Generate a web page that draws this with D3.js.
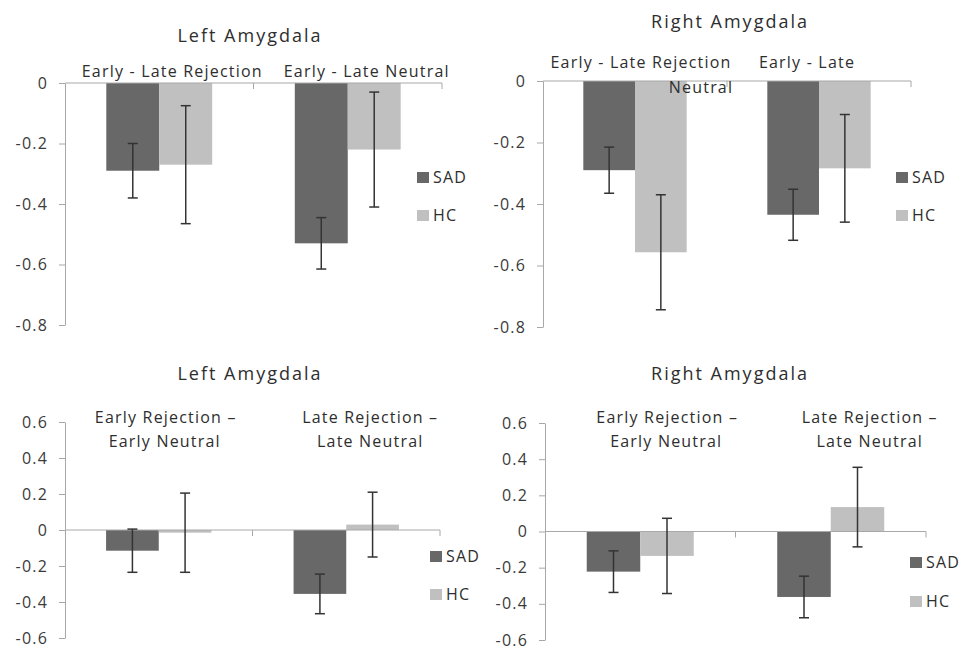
<!DOCTYPE html>
<html>
<head>
<meta charset="utf-8">
<script src="https://cdn.jsdelivr.net/npm/d3@7"></script>
<style>
  body { margin: 0; background: #fff; }
  svg text { font-family: "Open Sans", sans-serif; fill: #2e2e2e; }
</style>
</head>
<body>
<svg id="chart" width="966" height="652"></svg>
<script>
"use strict";

// groups + tick labels
const groups = ["SAD", "HC"];
const titles = ["Left Amygdala", "Right Amygdala", "Left Amygdala", "Right Amygdala"];
const topTicks = [0, -0.2, -0.4, -0.6, -0.8];
const bottomTicks = [0.6, 0.4, 0.2, 0, -0.2, -0.4, -0.6];

// category labels (one array of lines per category)
const leftTopCats = [["Early - Late Rejection"], ["Early - Late Neutral"]];
const rightTopCats = [["Early - Late Rejection"], ["Early - Late", "Neutral"]];
const bottomCats = [["Early Rejection \u2013", "Early Neutral"], ["Late Rejection \u2013", "Late Neutral"]];

// values
const leftTopSAD = [-0.29, -0.53];
const leftTopSADErr = [0.09, 0.085];
const leftTopHC = [-0.27, -0.22];
const leftTopHCErr = [0.195, 0.19];

const rightTopSAD = [-0.29, -0.435];
const rightTopSADErr = [0.075, 0.083];
const rightTopHC = [-0.557, -0.284];
const rightTopHCErr = [0.187, 0.175];

const leftBottomSAD = [-0.115, -0.355];
const leftBottomSADErr = [0.12, 0.11];
const leftBottomHC = [-0.015, 0.03];
const leftBottomHCErr = [0.22, 0.18];

const rightBottomSAD = [-0.222, -0.362];
const rightBottomSADErr = [0.115, 0.115];
const rightBottomHC = [-0.135, 0.135];
const rightBottomHCErr = [0.208, 0.22];

const colors = { SAD: "#686868", HC: "#c0c0c0" };

// panel layout (pixels)
const layouts = [
  { x0: 65, x1: 442, yTop: 83, yBot: 325, titleX: 250, titleY: 42,
    catY: [77], catDx: [[13], [19]], legX: 417, legY: [183, 221] },
  { x0: 543, x1: 911, yTop: 81, yBot: 327, titleX: 730, titleY: 28,
    catY: [68, 93], catDx: [[6], [-12, -118]], legX: 896, legY: [183, 221] },
  { x0: 65, x1: 440, yTop: 422, yBot: 638, titleX: 250, titleY: 380,
    catY: [423, 447], catDx: [[7, 6], [24, 24]], legX: 430, legY: [562, 600] },
  { x0: 545, x1: 926, yTop: 423, yBot: 640, titleX: 730, titleY: 380,
    catY: [423, 447], catDx: [[27, 26], [39, 39]], legX: 910, legY: [568, 607] }
];

const panels = [
  { cats: leftTopCats, ticks: topTicks, SAD: leftTopSAD, SADErr: leftTopSADErr, HC: leftTopHC, HCErr: leftTopHCErr },
  { cats: rightTopCats, ticks: topTicks, SAD: rightTopSAD, SADErr: rightTopSADErr, HC: rightTopHC, HCErr: rightTopHCErr },
  { cats: bottomCats, ticks: bottomTicks, SAD: leftBottomSAD, SADErr: leftBottomSADErr, HC: leftBottomHC, HCErr: leftBottomHCErr },
  { cats: bottomCats, ticks: bottomTicks, SAD: rightBottomSAD, SADErr: rightBottomSADErr, HC: rightBottomHC, HCErr: rightBottomHCErr }
];

const svg = d3.select("#chart");

panels.forEach((p, i) => {
  const L = layouts[i];
  const g = svg.append("g");

  const y = d3.scaleLinear()
    .domain([d3.max(p.ticks), d3.min(p.ticks)])
    .range([L.yTop, L.yBot]);

  const x = d3.scaleBand()
    .domain(d3.range(p.cats.length))
    .range([L.x0, L.x1]);

  const xg = d3.scaleBand()
    .domain(groups)
    .range([0, x.bandwidth()])
    .paddingInner(0)
    .paddingOuter(0.78);

  // title
  g.append("text")
    .attr("x", L.titleX)
    .attr("y", L.titleY)
    .attr("text-anchor", "middle")
    .style("font-size", "18px")
    .style("letter-spacing", "2px")
    .text(titles[i]);

  // bars
  groups.forEach(grp => {
    g.selectAll(null)
      .data(p[grp])
      .enter().append("rect")
        .attr("x", (d, j) => x(j) + xg(grp))
        .attr("width", xg.bandwidth())
        .attr("y", d => Math.min(y(d), y(0)))
        .attr("height", d => Math.abs(y(d) - y(0)))
        .attr("fill", colors[grp]);
  });

  // y axis
  const yAxis = g.append("g")
    .attr("transform", "translate(" + L.x0 + ",0)")
    .call(d3.axisLeft(y)
      .tickValues(p.ticks)
      .tickSizeInner(6)
      .tickSizeOuter(0)
      .tickPadding(11)
      .tickFormat(d => String(d)));
  yAxis.select(".domain").attr("stroke", "#a8a8a8");
  yAxis.selectAll(".tick line").attr("stroke", "#a8a8a8");
  yAxis.selectAll(".tick text")
    .style("font-size", "16px")
    .style("letter-spacing", "1.2px")
    .style("fill", "#3a3a3a");

  // x axis line at zero with ticks between categories
  g.append("line")
    .attr("x1", L.x0).attr("x2", L.x1)
    .attr("y1", y(0)).attr("y2", y(0))
    .attr("stroke", "#a8a8a8");
  g.selectAll(null)
    .data(d3.range(p.cats.length))
    .enter().append("line")
      .attr("x1", j => x(j) + x.bandwidth())
      .attr("x2", j => x(j) + x.bandwidth())
      .attr("y1", y(0))
      .attr("y2", y(0) + 6)
      .attr("stroke", "#a8a8a8");

  // error bars
  groups.forEach(grp => {
    const errs = p[grp + "Err"];
    const eg = g.selectAll(null)
      .data(p[grp])
      .enter().append("g")
        .attr("transform", (d, j) => "translate(" + (x(j) + xg(grp) + xg.bandwidth() / 2) + ",0)");
    eg.append("line")
      .attr("y1", (d, j) => y(d + errs[j]))
      .attr("y2", (d, j) => y(d - errs[j]))
      .attr("stroke", "#333").attr("stroke-width", 1.5);
    eg.append("line")
      .attr("x1", -5).attr("x2", 5)
      .attr("y1", (d, j) => y(d + errs[j]))
      .attr("y2", (d, j) => y(d + errs[j]))
      .attr("stroke", "#333").attr("stroke-width", 1.5);
    eg.append("line")
      .attr("x1", -5).attr("x2", 5)
      .attr("y1", (d, j) => y(d - errs[j]))
      .attr("y2", (d, j) => y(d - errs[j]))
      .attr("stroke", "#333").attr("stroke-width", 1.5);
  });

  // category labels
  p.cats.forEach((lines, j) => {
    lines.forEach((txt, k) => {
      g.append("text")
        .attr("x", x(j) + x.bandwidth() / 2 + L.catDx[j][k])
        .attr("y", L.catY[k])
        .attr("text-anchor", "middle")
        .style("font-size", "16px")
        .style("letter-spacing", "1.2px")
        .text(txt);
    });
  });

  // legend
  const leg = g.selectAll(null)
    .data(groups)
    .enter().append("g")
      .attr("transform", (d, k) => "translate(" + L.legX + "," + L.legY[k] + ")");
  leg.append("rect")
    .attr("x", 0).attr("y", -11)
    .attr("width", 12).attr("height", 11)
    .attr("fill", d => colors[d]);
  leg.append("text")
    .attr("x", 16).attr("y", 0)
    .style("font-size", "16px")
    .style("letter-spacing", "1.2px")
    .text(d => d);
});
</script>
</body>
</html>
